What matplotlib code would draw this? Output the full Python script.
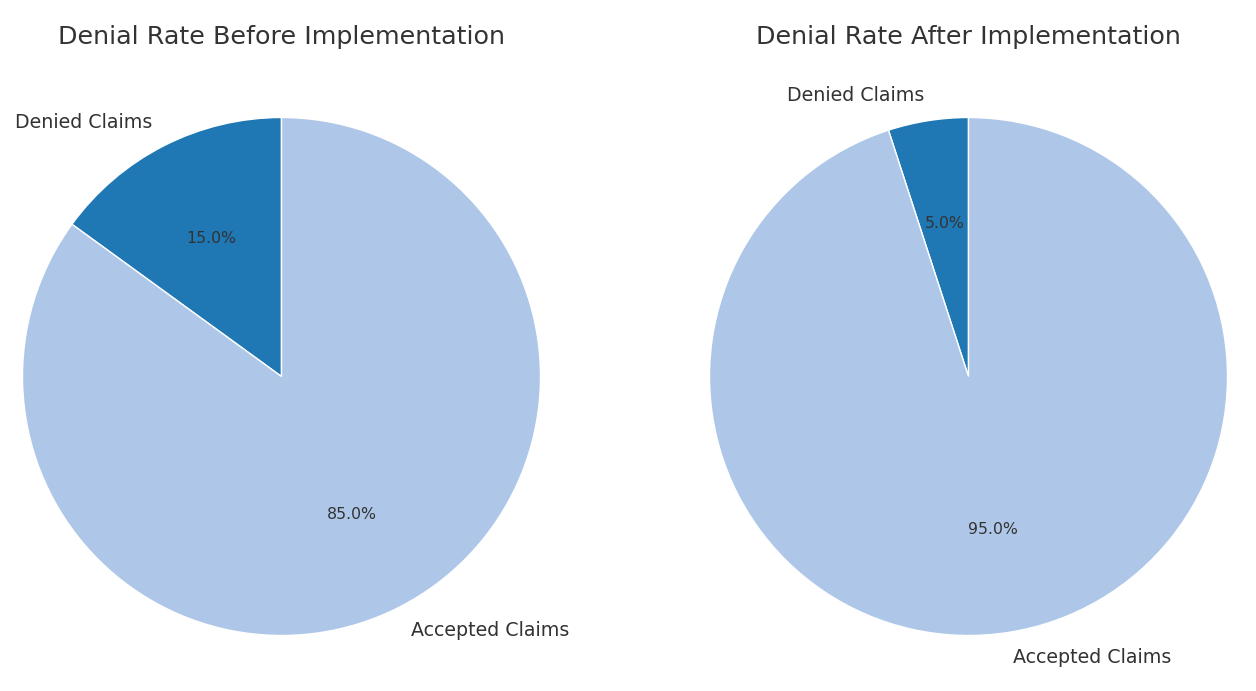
import matplotlib.pyplot as plt

# data
labels = ['Denied Claims', 'Accepted Claims']
before_pct = [15, 85]
after_pct = [5, 95]
titles = ['Denial Rate Before Implementation', 'Denial Rate After Implementation']
colors = ['#1f77b4', '#aec7e8']

txt = '#333333'
fig = plt.figure(figsize=(12.56, 6.91), dpi=100)
W, H = 1256.0, 691.0
side = 647.5
cy = 691 - 376.5
pos = []
for cx in [281.5, 968.5]:
    pos.append([(cx - side / 2) / W, (cy - side / 2) / H, side / W, side / H])

for p, vals, t in zip(pos, [before_pct, after_pct], titles):
    ax = fig.add_axes(p)
    wedges, texts, autotexts = ax.pie(vals, labels=labels, colors=colors, autopct='%1.1f%%',
                                      startangle=90,
                                      wedgeprops={'edgecolor': 'white', 'linewidth': 1},
                                      textprops={'color': txt, 'fontsize': 13.7})
    for a in autotexts:
        a.set_fontsize(11.3)
    ax.set_title(t, fontsize=18.3, color=txt)
    ax.set_xlim(-1.25, 1.25)
    ax.set_ylim(-1.25, 1.25)

plt.savefig('out.png', dpi=100)
